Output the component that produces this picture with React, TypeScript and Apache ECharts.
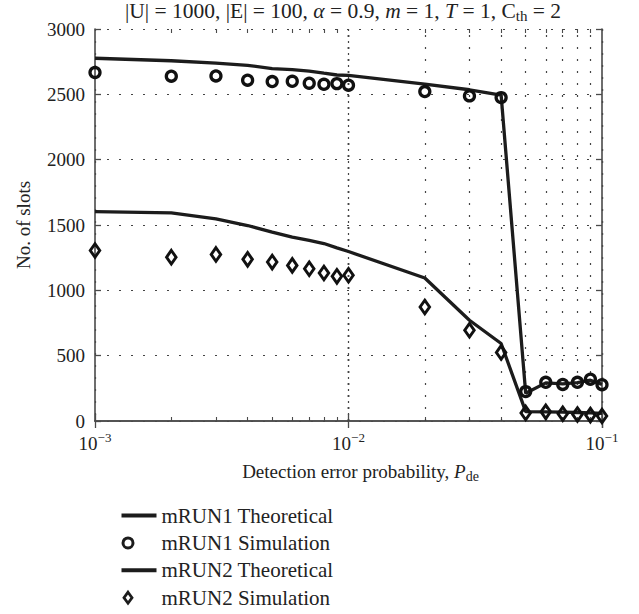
import React, { useEffect, useRef } from "react";
import * as echarts from "echarts";

const FONT = "'Liberation Serif', 'DejaVu Serif', serif";
const INK = "#1c1c1c";
const AXIS = "#4a4a4a";
const GRID = "#444";

// Detection error probability sample points
const pde = [
  0.001, 0.002, 0.003, 0.004, 0.005, 0.006, 0.007, 0.008, 0.009, 0.01,
  0.02, 0.03, 0.04, 0.05, 0.06, 0.07, 0.08, 0.09, 0.1,
];

// Number of slots per scheme
const mrun1Theoretical = [
  2776, 2757, 2739, 2722, 2697, 2689, 2678, 2662, 2648, 2645,
  2578, 2535, 2494, 212, 292, 284, 294, 312, 280,
];
const mrun1Simulation = [
  2667, 2639, 2641, 2608, 2598, 2600, 2585, 2577, 2582, 2570,
  2521, 2488, 2475, 225, 296, 280, 296, 320, 278,
];
const mrun2Theoretical = [
  1603, 1593, 1547, 1496, 1445, 1407, 1382, 1358, 1325, 1297,
  1094, 771, 593, 72, 70, 68, 65, 62, 58,
];
const mrun2Simulation = [
  1305, 1254, 1275, 1237, 1216, 1191, 1165, 1132, 1107, 1115,
  873, 695, 525, 62, 70, 55, 50, 45, 38,
];

// Minor log-decade positions (2..9 x 10^k)
const minorX = [
  0.002, 0.003, 0.004, 0.005, 0.006, 0.007, 0.008, 0.009,
  0.02, 0.03, 0.04, 0.05, 0.06, 0.07, 0.08, 0.09,
];

const names = [
  "mRUN1 Theoretical",
  "mRUN1 Simulation",
  "mRUN2 Theoretical",
  "mRUN2 Simulation",
];

const pairs = (ys: number[]) => pde.map((x, i) => [x, ys[i]]);

const dotted = { type: [2, 10] as number[], color: GRID, width: 1.2 };

// legend icons: wide bounding box so the marker sits at the left like the line sample
const LINE_ICON = "path://M0,0M35,14M0,5L35,5L35,9L0,9Z";
const CIRCLE_ICON =
  "path://M0,0M35,14M1.5,7A5,5,0,1,1,11.5,7A5,5,0,1,1,1.5,7Z";
const DIAMOND_ICON = "path://M0,0M35,14M6.5,1.5L10.5,7L6.5,12.5L2.5,7Z";

export default function App() {
  const ref = useRef<HTMLDivElement>(null);

  useEffect(() => {
    if (!ref.current) return;
    const chart = echarts.init(ref.current, undefined, { renderer: "svg" });

    const supRich = {
      b: { fontFamily: FONT, fontSize: 19, color: "#222" },
      s: { fontFamily: FONT, fontSize: 13, color: "#222", padding: [0, 0, 12, 0] },
    };

    const option: any = {
      animation: false,
      backgroundColor: "#fff",
      grid: { left: 95, right: 37, top: 29, bottom: 193, containLabel: false },
      graphic: [
        {
          type: "text",
          x: 343,
          y: 11,
          style: {
            text:
              "{n||U| = 1000, |E| = 100, }{i|α}{n| = 0.9, }{i|m}{n| = 1, }{i|T}{n| = 1, C}{sub|th}{n| = 2}",
            align: "center",
            verticalAlign: "middle",
            rich: {
              n: { fontFamily: FONT, fontSize: 21.5, fill: "#222", color: "#222" },
              i: { fontFamily: FONT, fontSize: 21.5, fontStyle: "italic", fill: "#222", color: "#222" },
              sub: { fontFamily: FONT, fontSize: 15, fill: "#222", color: "#222", padding: [10, 0, 0, 0] },
            },
          },
        },
      ],
      xAxis: [
        {
          type: "log",
          logBase: 10,
          min: 0.001,
          max: 0.1,
          position: "bottom",
          axisLine: { show: true, lineStyle: { color: AXIS, width: 1.6 } },
          axisTick: { show: true, inside: true, length: 7, lineStyle: { color: AXIS, width: 1.3 } },
          axisLabel: {
            margin: 10,
            formatter: (v: number) => `{b|10}{s|−${Math.round(-Math.log10(v))}}`,
            rich: supRich,
          },
          splitLine: { show: true, lineStyle: dotted },
          name: "{n|Detection error probability, }{i|P}{sub|de}",
          nameLocation: "middle",
          nameGap: 38,
          nameTextStyle: {
            padding: [0, 0, 0, 24],
            rich: {
              n: { fontFamily: FONT, fontSize: 19, color: "#222" },
              i: { fontFamily: FONT, fontSize: 19, fontStyle: "italic", color: "#222" },
              sub: { fontFamily: FONT, fontSize: 14, color: "#222", padding: [10, 0, 0, 0] },
            },
          },
        },
        {
          type: "log",
          logBase: 10,
          min: 0.001,
          max: 0.1,
          position: "top",
          axisLine: { show: true, lineStyle: { color: AXIS, width: 1.6 } },
          axisTick: { show: true, inside: true, length: 7, lineStyle: { color: AXIS, width: 1.3 } },
          axisLabel: { show: false },
          splitLine: { show: false },
        },
        {
          type: "value",
          min: -3,
          max: -1,
          position: "bottom",
          axisLine: { show: false },
          axisTick: {
            show: true,
            inside: true,
            length: 4,
            customValues: minorX.map((v) => Math.log10(v)),
            lineStyle: { color: AXIS, width: 1.1 },
          },
          axisLabel: { show: false },
          splitLine: { show: false },
        },
        {
          type: "value",
          min: -3,
          max: -1,
          position: "top",
          axisLine: { show: false },
          axisTick: {
            show: true,
            inside: true,
            length: 4,
            customValues: minorX.map((v) => Math.log10(v)),
            lineStyle: { color: AXIS, width: 1.1 },
          },
          axisLabel: { show: false },
          splitLine: { show: false },
        },
      ],
      yAxis: [
        {
          type: "value",
          min: 0,
          max: 3000,
          interval: 500,
          position: "left",
          axisLine: { show: true, lineStyle: { color: AXIS, width: 1.6 } },
          axisTick: { show: true, inside: true, length: 6, lineStyle: { color: AXIS, width: 1.3 } },
          axisLabel: {
            fontFamily: FONT,
            fontSize: 19,
            color: "#222",
            margin: 10,
            formatter: (v: number) => String(v),
          },
          splitLine: { show: true, lineStyle: dotted },
          name: "No. of slots",
          nameLocation: "middle",
          nameGap: 62,
          nameTextStyle: { fontFamily: FONT, fontSize: 19, color: "#222" },
        },
        {
          type: "value",
          min: 0,
          max: 3000,
          interval: 500,
          position: "right",
          axisLine: { show: true, lineStyle: { color: AXIS, width: 1.6 } },
          axisTick: { show: true, inside: true, length: 6, lineStyle: { color: AXIS, width: 1.3 } },
          axisLabel: { show: false },
          splitLine: { show: false },
        },
      ],
      legend: {
        orient: "vertical",
        left: 115,
        top: 500,
        height: 112,
        padding: 5,
        itemWidth: 35,
        itemHeight: 14,
        itemGap: 6.4,
        symbolKeepAspect: true,
        textStyle: { fontFamily: FONT, fontSize: 21, lineHeight: 20, color: "#222" },
        data: [
          { name: names[0], icon: LINE_ICON, itemStyle: { color: INK, borderWidth: 0 } },
          {
            name: names[1],
            icon: CIRCLE_ICON,
            itemStyle: { color: "rgba(0,0,0,0)", borderColor: INK, borderWidth: 3 },
          },
          { name: names[2], icon: LINE_ICON, itemStyle: { color: INK, borderWidth: 0 } },
          {
            name: names[3],
            icon: DIAMOND_ICON,
            itemStyle: { color: "rgba(0,0,0,0)", borderColor: INK, borderWidth: 2.8 },
          },
        ],
      },
      series: [
        {
          name: names[0],
          type: "line",
          data: pairs(mrun1Theoretical),
          symbol: "none",
          lineStyle: { color: INK, width: 3.3 },
          itemStyle: { color: INK },
          z: 3,
          markLine: {
            silent: true,
            symbol: ["none", "none"],
            label: { show: false },
            lineStyle: dotted,
            emphasis: { disabled: true },
            data: minorX.map((v) => ({ xAxis: v })),
            z: 1,
          },
        },
        {
          name: names[1],
          type: "scatter",
          data: pairs(mrun1Simulation),
          symbol: "circle",
          symbolSize: 10,
          itemStyle: { color: "rgba(0,0,0,0)", borderColor: "#111", borderWidth: 3.3, opacity: 1 },
          z: 4,
        },
        {
          name: names[2],
          type: "line",
          data: pairs(mrun2Theoretical),
          symbol: "none",
          lineStyle: { color: INK, width: 3.3 },
          itemStyle: { color: INK },
          z: 3,
        },
        {
          name: names[3],
          type: "scatter",
          data: pairs(mrun2Simulation),
          symbol: "diamond",
          symbolSize: [9.5, 13.5],
          itemStyle: { color: "rgba(0,0,0,0)", borderColor: "#111", borderWidth: 3, opacity: 1 },
          z: 4,
        },
      ],
    };

    chart.setOption(option);
    return () => chart.dispose();
  }, []);

  return (
    <div
      ref={ref}
      style={{ position: "fixed", left: 0, top: 0, width: 639, height: 614, background: "#fff" }}
    />
  );
}
